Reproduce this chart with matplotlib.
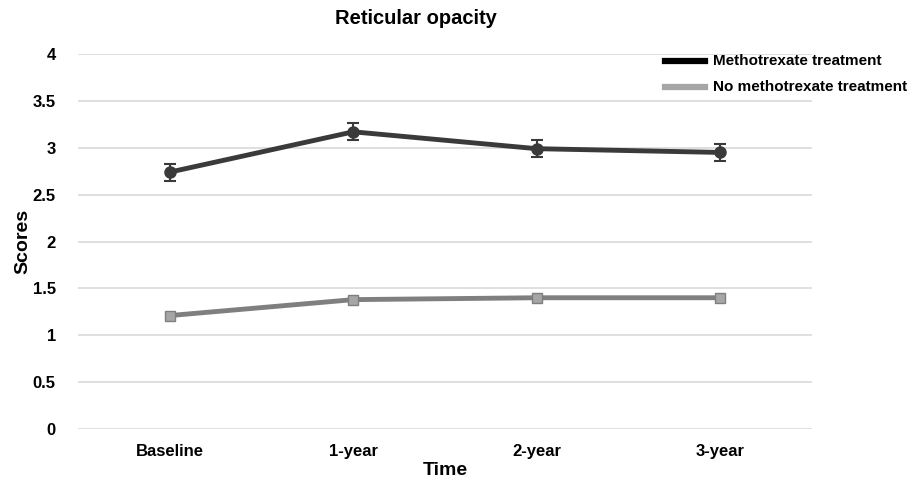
import matplotlib.pyplot as plt
import numpy as np

plt.rcParams['font.family'] = ['Liberation Sans', 'DejaVu Sans']
plt.rcParams['font.weight'] = 'bold'

# mean scores per time point
timepoints = ['Baseline', '1-year', '2-year', '3-year']
mtx_scores = [2.74, 3.17, 2.99, 2.95]
mtx_err = [0.09, 0.09, 0.09, 0.09]
no_mtx_scores = [1.21, 1.38, 1.40, 1.40]
no_mtx_err = [0.03, 0.03, 0.03, 0.03]

fig = plt.figure(figsize=(9.15, 4.83), dpi=100)
ax = fig.add_axes([78 / 915, 1 - 429 / 483, 734 / 915, 375 / 483])

x = np.arange(len(timepoints))

ax.errorbar(x, mtx_scores, yerr=mtx_err, color='#3a3a3a', lw=3.5,
            marker='o', ms=8, mfc='#3a3a3a', mec='#3a3a3a',
            ecolor='#3a3a3a', elinewidth=1.5, capsize=4, capthick=1.5, zorder=3)
ax.errorbar(x, no_mtx_scores, yerr=no_mtx_err, color='#7f7f7f', lw=3.5,
            marker='s', ms=7, mfc='#a6a6a6', mec='#7f7f7f',
            ecolor='#7f7f7f', elinewidth=1.2, capsize=3, capthick=1.2, zorder=3)

ax.set_xlim(-0.5, 3.5)
ax.set_ylim(0, 4)
ax.set_yticks(np.arange(0, 4.01, 0.5))
ax.set_yticklabels(['0', '0.5', '1', '1.5', '2', '2.5', '3', '3.5', '4'])
ax.set_xticks(x)
ax.set_xticklabels(timepoints)
ax.tick_params(length=0, labelsize=12, pad=16)
ax.tick_params(axis='x', pad=11)
ax.grid(axis='y', color='#d9d9d9', lw=1.2)
ax.set_axisbelow(True)
for s in ax.spines.values():
    s.set_visible(False)

ax.set_xlabel('Time', fontsize=14, fontweight='bold', labelpad=2)
ax.set_ylabel('Scores', fontsize=14, fontweight='bold', labelpad=1)
fig.text(416 / 915, 1 - 18 / 483, 'Reticular opacity', ha='center', va='center',
         fontsize=14.5, fontweight='bold')

# legend drawn by hand in the top right corner
for yy, col, lab in [(61, '#000000', 'Methotrexate treatment'),
                     (87, '#a6a6a6', 'No methotrexate treatment')]:
    fig.add_artist(plt.Line2D([665 / 915, 705 / 915], [1 - yy / 483] * 2,
                              color=col, lw=4.5, transform=fig.transFigure))
    fig.text(713 / 915, 1 - yy / 483, lab, ha='left', va='center',
             fontsize=11, fontweight='bold')

fig.savefig('out.png', dpi=100, facecolor='white')
